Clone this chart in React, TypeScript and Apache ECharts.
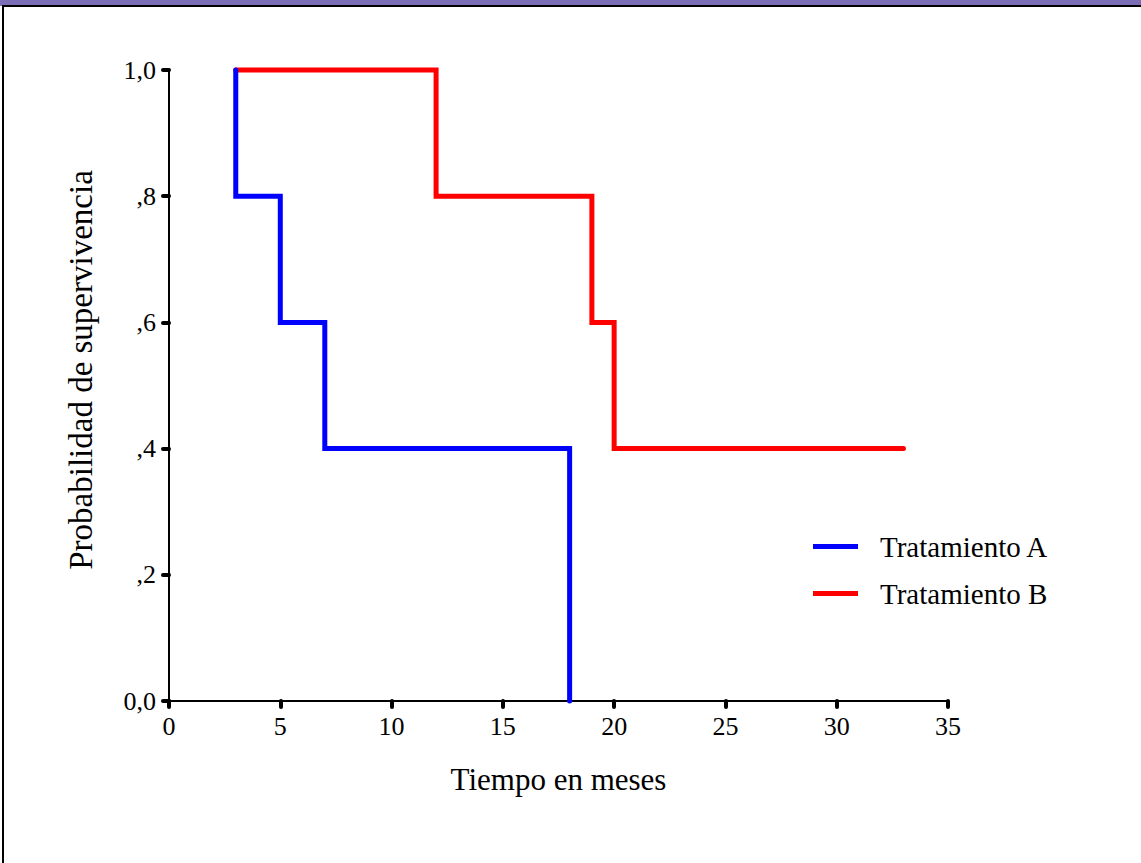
import React, { useEffect, useRef } from "react";
import * as echarts from "echarts";

const seriesNames = ["Tratamiento A", "Tratamiento B"];
// Kaplan-Meier step points (time in months, survival probability)
const timesA = [3, 3, 5, 7, 18];
const survA = [1.0, 0.8, 0.6, 0.4, 0.0];
const timesB = [3, 12, 19, 20, 33];
const survB = [1.0, 0.8, 0.6, 0.4, 0.4];
const xTicks = [0, 5, 10, 15, 20, 25, 30, 35];
const yTickLabels: Record<string, string> = {
  "0": "0,0",
  "0.2": ",2",
  "0.4": ",4",
  "0.6": ",6",
  "0.8": ",8",
  "1": "1,0",
};
const xTitle = "Tiempo en meses";
const yTitle = "Probabilidad de supervivencia";
const colors = ["#0000ff", "#ff0000"];

const FONT = "'Liberation Serif', 'Times New Roman', serif";

export default function App() {
  const ref = useRef<HTMLDivElement>(null);
  useEffect(() => {
    document.body.style.margin = "0";
    const chart = echarts.init(ref.current!, null, { renderer: "svg" });
    const dataA = timesA.map((t, i) => [t, survA[i]]);
    const dataB = timesB.map((t, i) => [t, survB[i]]);
    const tickStyle = { show: true, length: 6, lineStyle: { color: "#000", width: 4, cap: "round" } };
    chart.setOption({
      animation: false,
      backgroundColor: "#fff",
      textStyle: { fontFamily: FONT },
      graphic: [
        { type: "rect", shape: { x: 0, y: 0, width: 1141, height: 6 }, style: { fill: "#7b6db6" } },
        { type: "rect", shape: { x: 2, y: 5, width: 1139, height: 2 }, style: { fill: "#000" } },
        { type: "rect", shape: { x: 2, y: 5, width: 2, height: 858 }, style: { fill: "#000" } },
        {
          type: "text",
          x: 81,
          y: 370,
          rotation: Math.PI / 2,
          style: {
            text: yTitle,
            fontFamily: FONT,
            fontSize: 33,
            fill: "#000",
            align: "center",
            verticalAlign: "middle",
          },
        },
      ],
      grid: { left: 169, right: 193, top: 70, bottom: 162, containLabel: false },
      legend: {
        orient: "vertical",
        left: 813,
        top: 532,
        padding: 0,
        itemWidth: 45,
        itemHeight: 5,
        itemGap: 18,
        icon: "rect",
        data: seriesNames,
        textStyle: { fontFamily: FONT, fontSize: 29, color: "#000", padding: [0, 0, 0, 17] },
      },
      xAxis: {
        type: "value",
        min: 0,
        max: 35,
        interval: 5,
        name: xTitle,
        nameLocation: "middle",
        nameGap: 63,
        nameTextStyle: { fontFamily: FONT, fontSize: 31, color: "#000" },
        axisLine: { show: true, onZero: false, lineStyle: { color: "#000", width: 2 } },
        axisTick: tickStyle,
        splitLine: { show: false },
        axisLabel: {
          fontFamily: FONT,
          fontSize: 26,
          color: "#000",
          margin: 12,
          formatter: (v: number) => (xTicks.includes(v) ? String(v) : ""),
        },
      },
      yAxis: {
        type: "value",
        min: 0,
        max: 1,
        interval: 0.2,
        axisLine: { show: true, lineStyle: { color: "#000", width: 2 } },
        axisTick: tickStyle,
        splitLine: { show: false },
        axisLabel: {
          fontFamily: FONT,
          fontSize: 26,
          color: "#000",
          margin: 13,
          formatter: (v: number) => yTickLabels[String(Math.round(v * 10) / 10)] ?? "",
        },
      },
      series: [
        {
          name: seriesNames[1],
          type: "line",
          step: "end",
          data: dataB,
          symbol: "none",
          clip: false,
          z: 2,
          lineStyle: { color: colors[1], width: 5, cap: "round", join: "miter" },
          itemStyle: { color: colors[1] },
        },
        {
          name: seriesNames[0],
          type: "line",
          step: "end",
          data: dataA,
          symbol: "none",
          clip: false,
          z: 3,
          lineStyle: { color: colors[0], width: 5, cap: "round", join: "miter" },
          itemStyle: { color: colors[0] },
        },
      ],
    });
    return () => chart.dispose();
  }, []);
  return <div ref={ref} style={{ width: 1141, height: 863 }} />;
}
